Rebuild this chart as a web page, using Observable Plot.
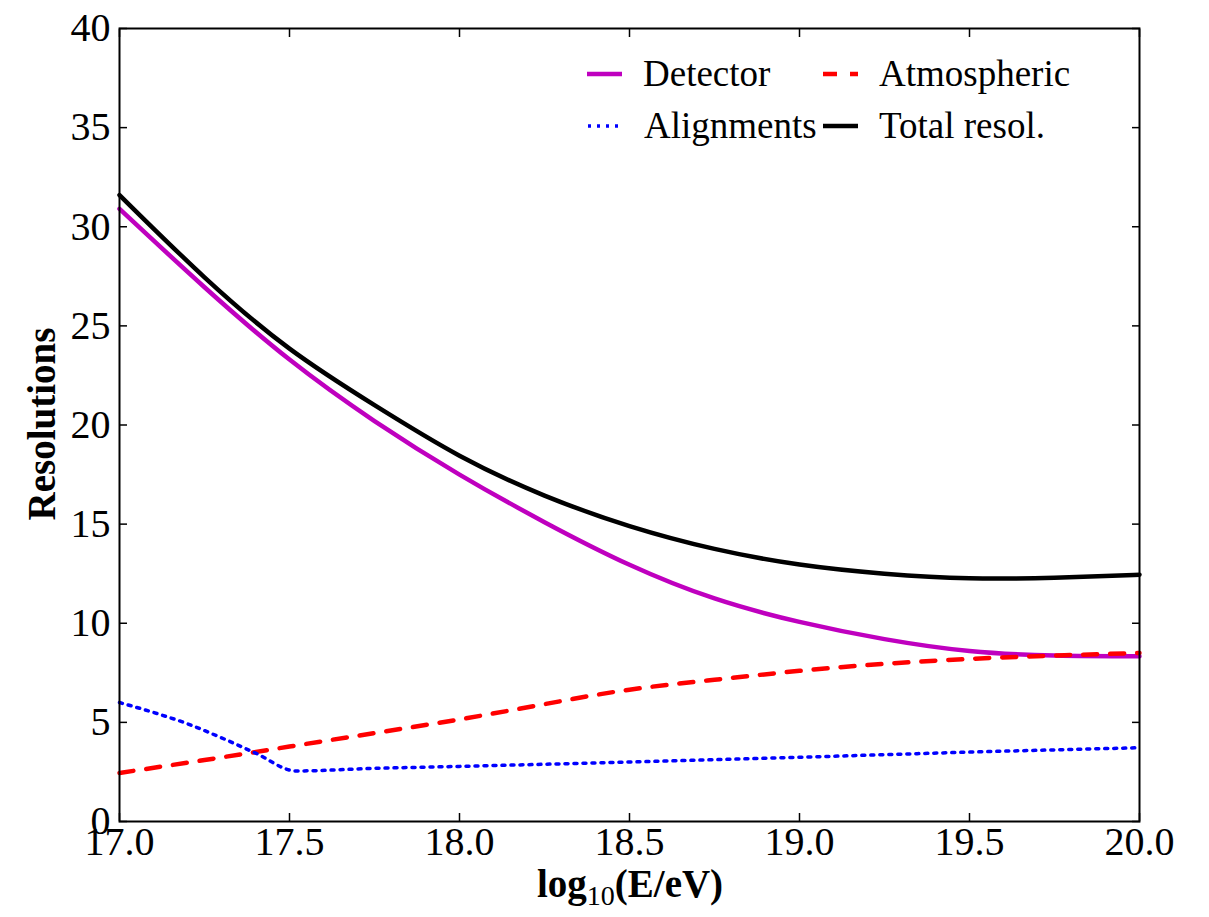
<!DOCTYPE html>
<html>
<head>
<meta charset="utf-8">
<script src="https://cdn.jsdelivr.net/npm/d3@7"></script>
<script src="https://cdn.jsdelivr.net/npm/@observablehq/plot@0.6"></script>
<style>
  html, body { margin: 0; padding: 0; background: #fff; }
  #chart { width: 1209px; height: 917px; }
  svg, svg text { font-family: "Liberation Serif", "DejaVu Serif", serif !important; }
</style>
</head>
<body>
<div id="chart"></div>
<script>
// ---- data ----
const energy     = [17.0, 17.25, 17.5, 17.75, 18.0, 18.25, 18.5, 18.75, 19.0, 19.25, 19.5, 19.75, 20.0];
const detector   = [30.9, 26.95, 23.3, 20.2, 17.5, 15.1, 12.95, 11.25, 10.07, 9.2, 8.6, 8.37, 8.33];
const atmospheric= [2.45, 3.1, 3.78, 4.46, 5.15, 5.92, 6.65, 7.15, 7.6, 7.95, 8.2, 8.37, 8.5];
const totalResol = [31.6, 27.45, 23.85, 21.0, 18.45, 16.44, 14.9, 13.75, 12.96, 12.5, 12.27, 12.3, 12.45];
const alignEnergy= [17.0, 17.1, 17.2, 17.3, 17.4, 17.52, 17.75, 18.0, 18.5, 19.0, 19.5, 20.0];
const alignments = [6.0, 5.5, 4.93, 4.22, 3.45, 2.55, 2.68, 2.78, 3.0, 3.24, 3.5, 3.72];
const xTicks = [17.0, 17.5, 18.0, 18.5, 19.0, 19.5, 20.0];
const yTicks = [0, 5, 10, 15, 20, 25, 30, 35, 40];
const seriesNames = ["Detector", "Atmospheric", "Alignments", "Total resol."];

const rows = (xs, ys) => xs.map((x, i) => ({x, y: ys[i]}));
const det = rows(energy, detector);
const atm = rows(energy, atmospheric);
const tot = rows(energy, totalResol);
const ali = rows(alignEnergy, alignments);

const TFS = 40;   // tick labels
const LFS = 37;   // legend
const AFS = 39;   // axis titles
const font = "Liberation Serif";

const plot = Plot.plot({
  width: 1209,
  height: 917,
  marginLeft: 119,
  marginRight: 70,
  marginTop: 28,
  marginBottom: 96,
  style: {fontFamily: font, fontSize: TFS + "px", background: "#fff", color: "#000"},
  x: {domain: [17, 20], label: null},
  y: {domain: [0, 40], label: null},
  marks: [
    Plot.line(det, {x: "x", y: "y", stroke: "#bf00bf", strokeWidth: 4.5, curve: "natural"}),
    Plot.line(atm, {x: "x", y: "y", stroke: "#ff0000", strokeWidth: 4.5, strokeDasharray: "14,13", curve: "natural"}),
    Plot.line(ali, {x: "x", y: "y", stroke: "#0000ff", strokeWidth: 3.5, strokeDasharray: "3,6", curve: "monotone-x"}),
    Plot.line(tot, {x: "x", y: "y", stroke: "#000", strokeWidth: 4.5, curve: "natural"}),
    // tick labels
    Plot.axisY(yTicks, {anchor: "left", tickSize: 0, tickPadding: 9, tickFormat: d => String(d), fontSize: TFS, fontFamily: font, label: null}),
    Plot.axisX(xTicks, {anchor: "bottom", tickSize: 0, tickPadding: 5, tickFormat: d => d.toFixed(1), fontSize: TFS, fontFamily: font, label: null}),
    // inward ticks on all four sides
    Plot.axisY(yTicks, {anchor: "left", tickSize: -8, strokeWidth: 1.5, tickFormat: () => "", label: null}),
    Plot.axisY(yTicks, {anchor: "right", tickSize: -8, strokeWidth: 1.5, tickFormat: () => "", label: null}),
    Plot.axisX(xTicks, {anchor: "bottom", tickSize: -8, strokeWidth: 1.5, tickFormat: () => "", label: null}),
    Plot.axisX(xTicks, {anchor: "top", tickSize: -8, strokeWidth: 1.5, tickFormat: () => "", label: null}),
    Plot.frame({stroke: "#000", strokeWidth: 2})
  ]
});

document.getElementById("chart").appendChild(plot);

// ---- axis titles and legend ----
const svg = d3.select(plot);

svg.append("text")
  .attr("transform", "translate(55,424) rotate(-90)")
  .attr("text-anchor", "middle")
  .attr("font-family", font)
  .attr("font-weight", "bold")
  .attr("font-size", AFS)
  .text("Resolutions");

const xl = svg.append("text")
  .attr("x", 630).attr("y", 897)
  .attr("text-anchor", "middle")
  .attr("font-family", font)
  .attr("font-size", AFS);
xl.append("tspan").attr("font-weight", "bold").text("log");
xl.append("tspan").attr("font-size", AFS * 0.72).attr("dy", 8).text("10");
xl.append("tspan").attr("font-weight", "bold").attr("dy", -8).text("(E/eV)");

const legendItems = [
  {name: seriesNames[0], color: "#bf00bf", dash: null, w: 4.5, x: 587, y: 74},
  {name: seriesNames[1], color: "#ff0000", dash: "14,13", w: 4.5, x: 823, y: 74},
  {name: seriesNames[2], color: "#0000ff", dash: "3,6", w: 3.5, x: 588, y: 126},
  {name: seriesNames[3], color: "#000", dash: null, w: 4.5, x: 823, y: 126}
];
const lg = svg.append("g");
for (const it of legendItems) {
  lg.append("line")
    .attr("x1", it.x).attr("x2", it.x + 35)
    .attr("y1", it.y).attr("y2", it.y)
    .attr("stroke", it.color).attr("stroke-width", it.w)
    .attr("stroke-dasharray", it.dash);
  lg.append("text")
    .attr("x", it.x + 56).attr("y", it.y + 12)
    .attr("text-anchor", "start")
    .attr("font-family", font).attr("font-size", LFS)
    .text(it.name);
}
</script>
</body>
</html>
